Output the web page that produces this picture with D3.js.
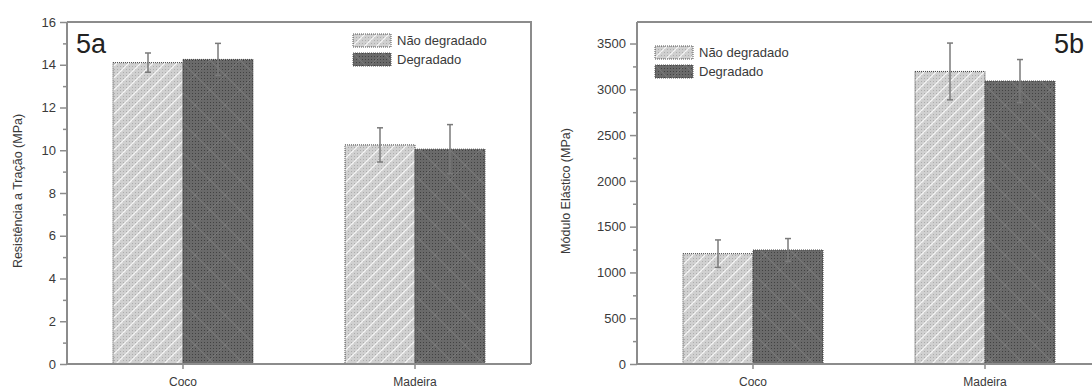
<!DOCTYPE html>
<html>
<head>
<meta charset="utf-8">
<script src="https://cdn.jsdelivr.net/npm/d3@7"></script>
<style>
  html, body { margin: 0; padding: 0; background: #fff; }
  svg { display: block; font-family: "Liberation Sans", Arial, sans-serif; }
</style>
</head>
<body>
<svg id="chart" width="1092" height="392"></svg>
<script>
// Categories and series
const categories = ["Coco", "Madeira"];
const seriesNames = ["Não degradado", "Degradado"];

// 5a: tensile strength (MPa)
const tracaNaoDegradado = [14.1, 10.25];
const tracaNaoDegradadoErr = [0.45, 0.8];
const tracaDegradado = [14.25, 10.05];
const tracaDegradadoErr = [0.75, 1.15];
const tracaTicks = [0, 2, 4, 6, 8, 10, 12, 14, 16];

// 5b: elastic modulus (MPa)
const moduloNaoDegradado = [1205, 3195];
const moduloNaoDegradadoErr = [150, 310];
const moduloDegradado = [1245, 3090];
const moduloDegradadoErr = [125, 235];
const moduloTicks = [0, 500, 1000, 1500, 2000, 2500, 3000, 3500];

const svg = d3.select("#chart");
const defs = svg.append("defs");

// Light fill: grey with dot texture and white "/" hatching
const pl = defs.append("pattern").attr("id", "fillLight")
  .attr("patternUnits", "userSpaceOnUse").attr("width", 12).attr("height", 12);
pl.append("rect").attr("width", 12).attr("height", 12).attr("fill", "#d0d0d0");
for (let i = 0; i < 12; i += 3)
  for (let j = 0; j < 12; j += 3)
    pl.append("rect").attr("x", i).attr("y", j).attr("width", 1).attr("height", 1).attr("fill", "#adadad");
pl.append("path").attr("d", "M-3,15 L15,-3 M-9,9 L9,-9 M3,21 L21,3")
  .attr("stroke", "#f4f4f4").attr("stroke-width", 1.3);

// Dark fill: dark grey with dot texture and faint diamond cross-hatch
const pd = defs.append("pattern").attr("id", "fillDark")
  .attr("patternUnits", "userSpaceOnUse").attr("width", 30).attr("height", 30);
pd.append("rect").attr("width", 30).attr("height", 30).attr("fill", "#6a6a6a");
for (let i = 0; i < 30; i += 3)
  for (let j = 0; j < 30; j += 3)
    pd.append("rect").attr("x", i).attr("y", j).attr("width", 1).attr("height", 1).attr("fill", "#424242");
pd.append("path").attr("d", "M0,30 L30,0 M0,0 L30,30")
  .attr("stroke", "#7a7a7a").attr("stroke-width", 1);

const fills = ["url(#fillLight)", "url(#fillDark)"];
const fontFam = "Liberation Sans, Arial, sans-serif";

function panel(opts) {
  const g = svg.append("g");
  const left = opts.left, top = 22, bottom = 364, width = 464;

  const y = d3.scaleLinear().domain([0, opts.yMax]).range([bottom, top]);
  const x0 = d3.scaleBand().domain(categories).range([left, left + width]);
  const bw = x0.bandwidth();
  const x1 = d3.scaleBand().domain(seriesNames).range([bw / 2 - 70, bw / 2 + 70]);

  // frame (top + right)
  g.append("path")
    .attr("d", `M${left},${top} H${left + width} V${bottom}`)
    .attr("fill", "none").attr("stroke", "#8c8c8c").attr("stroke-width", 2);

  // bars
  const data = [];
  categories.forEach((c, i) => {
    opts.values.forEach((vals, s) => {
      data.push({ cat: c, series: seriesNames[s], s, v: vals[i], e: opts.errors[s][i] });
    });
  });

  g.selectAll("rect.bar").data(data).join("rect")
    .attr("class", "bar")
    .attr("x", d => x0(d.cat) + x1(d.series))
    .attr("y", d => y(d.v))
    .attr("width", x1.bandwidth())
    .attr("height", d => y(0) - y(d.v))
    .attr("fill", d => fills[d.s])
    .attr("stroke", "#444").attr("stroke-width", 1).attr("stroke-dasharray", "1,1");

  // error bars
  const eb = g.selectAll("g.err").data(data).join("g").attr("class", "err")
    .attr("stroke", "#7a7a7a").attr("stroke-width", 1.5);
  const cx = d => x0(d.cat) + x1(d.series) + x1.bandwidth() / 2;
  eb.append("line").attr("x1", cx).attr("x2", cx)
    .attr("y1", d => y(d.v + d.e)).attr("y2", d => y(d.v - d.e));
  eb.append("line").attr("x1", d => cx(d) - 3).attr("x2", d => cx(d) + 3)
    .attr("y1", d => y(d.v + d.e)).attr("y2", d => y(d.v + d.e));
  eb.append("line").attr("x1", d => cx(d) - 3).attr("x2", d => cx(d) + 3)
    .attr("y1", d => y(d.v - d.e)).attr("y2", d => y(d.v - d.e));

  // y axis with minor ticks
  const step = opts.ticks[1] - opts.ticks[0];
  const minor = opts.ticks.map(t => t + step / 2).filter(t => t <= opts.yMax);
  const yMinor = g.append("g").attr("transform", `translate(${left},0)`)
    .call(d3.axisLeft(y).tickValues(minor).tickSize(4).tickFormat(""));
  yMinor.select(".domain").remove();
  yMinor.selectAll("line").attr("stroke", "#8c8c8c").attr("stroke-width", 1.5);

  const yAxis = g.append("g").attr("transform", `translate(${left},0)`)
    .call(d3.axisLeft(y).tickValues(opts.ticks).tickFormat(d3.format("d"))
      .tickSize(7).tickPadding(4).tickSizeOuter(0));
  yAxis.select(".domain").attr("stroke", "#8c8c8c").attr("stroke-width", 2)
    .attr("d", `M0,${top}V${bottom}`);
  yAxis.selectAll("line").attr("stroke", "#8c8c8c").attr("stroke-width", 1.5);
  yAxis.selectAll("text").attr("font-size", 13).attr("fill", "#3a3a3a")
    .attr("font-family", fontFam);

  // x axis
  const xAxis = g.append("g").attr("transform", `translate(0,${bottom})`)
    .call(d3.axisBottom(x0).tickSize(5).tickPadding(8).tickSizeOuter(0));
  xAxis.select(".domain").attr("stroke", "#8c8c8c").attr("stroke-width", 2)
    .attr("d", `M${left},0H${left + width}`);
  xAxis.selectAll("line").attr("stroke", "#8c8c8c").attr("stroke-width", 1.5);
  xAxis.selectAll("text").attr("font-size", 12).attr("fill", "#3a3a3a")
    .attr("font-family", fontFam);

  // axis title
  g.append("text")
    .attr("transform", `translate(${opts.titleX},${opts.titleY}) rotate(-90)`)
    .attr("text-anchor", "middle").attr("font-size", 12.5).attr("fill", "#3a3a3a")
    .text(opts.title);

  // panel label
  g.append("text").attr("x", opts.labelX).attr("y", 53)
    .attr("font-size", 27).attr("fill", "#222").text(opts.label);

  // legend
  const lg = g.append("g").attr("transform", `translate(${opts.legendX},${opts.legendY})`);
  seriesNames.forEach((name, s) => {
    const row = lg.append("g").attr("transform", `translate(0,${s * 19})`);
    row.append("rect").attr("x", 0).attr("y", 0).attr("width", 38).attr("height", 13)
      .attr("fill", fills[s]).attr("stroke", "#555").attr("stroke-width", 1)
      .attr("stroke-dasharray", "1,1");
    row.append("text").attr("x", 44).attr("y", 11).attr("font-size", 13)
      .attr("fill", "#3a3a3a").text(name);
  });
}

panel({
  left: 67, yMax: 16, ticks: tracaTicks,
  values: [tracaNaoDegradado, tracaDegradado],
  errors: [tracaNaoDegradadoErr, tracaDegradadoErr],
  title: "Resistência a Tração (MPa)", titleX: 22, titleY: 191,
  label: "5a", labelX: 76, legendX: 353, legendY: 34
});

panel({
  left: 637, yMax: 3735, ticks: moduloTicks,
  values: [moduloNaoDegradado, moduloDegradado],
  errors: [moduloNaoDegradadoErr, moduloDegradadoErr],
  title: "Módulo Elástico (MPa)", titleX: 570, titleY: 191,
  label: "5b", labelX: 1054, legendX: 655, legendY: 46
});
</script>
</body>
</html>
